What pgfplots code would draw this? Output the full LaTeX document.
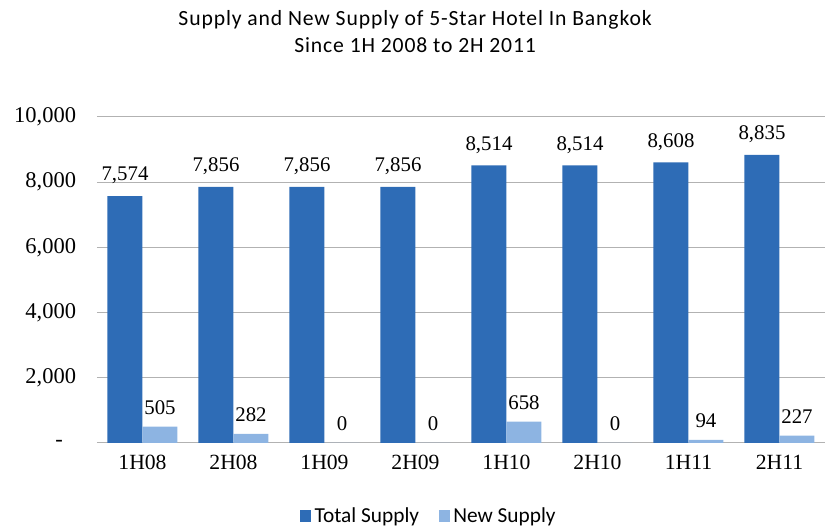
\documentclass[border=0pt]{standalone}
\usepackage{pgfplots}
\pgfplotsset{compat=1.18}
\usepackage{fontspec}
\setmainfont{Carlito}
\newfontfamily\numfont{Liberation Serif}
\newfontfamily\titlefont[LetterSpace=4]{Carlito}
\definecolor{totalc}{RGB}{46,108,182}
\definecolor{newc}{RGB}{141,180,226}
\begin{document}
\begin{tikzpicture}
\path[use as bounding box] (0,0) rectangle (496.2pt,317.4pt);
\begin{axis}[
  at={(58.2pt,51.6pt)}, anchor=south west,
  scale only axis, width=436.8pt, height=195.6pt,
  ybar=0pt, bar width=21pt,
  xmin=-0.5, xmax=7.5, ymin=0, ymax=10000,
  scaled y ticks=false,
  xtick={0,...,7},
  xticklabels={1H08,2H08,1H09,2H09,1H10,2H10,1H11,2H11},
  ytick={0,2000,4000,6000,8000,10000},
  yticklabels={{-\rule{8pt}{0pt}},{2,000},{4,000},{6,000},{8,000},{10,000}},
  tick label style={font=\numfont\fontsize{13}{15}\selectfont},
  yticklabel style={font=\numfont\fontsize{13.5}{15}\selectfont, xshift=-9pt},
  xticklabel style={yshift=-4pt},
  major tick length=0pt,
  axis line style={draw=none},
  ymajorgrids, major grid style={draw=gray!60, line width=0.6pt},
  nodes near coords={\pgfmathprintnumber[assume math mode=true,1000 sep={,}]{\pgfplotspointmeta}},
  nodes near coords style={font=\numfont\fontsize{12.5}{14}\selectfont, anchor=south, inner sep=0pt, yshift=7pt},
  legend style={at={(0.457,-0.224)}, anchor=center, draw=none, legend columns=2,
    font=\fontsize{12.8}{14}\selectfont,
    /tikz/every even column/.append style={column sep=10pt}},
  legend image code/.code={\fill[#1] (0pt,-3.6pt) rectangle (6.5pt,3.6pt);},
  clip=false,
]
\addplot[fill=totalc, draw=none] coordinates {(0,7574) (1,7856) (2,7856) (3,7856) (4,8514) (5,8514) (6,8608) (7,8835)};
\addplot[fill=newc, draw=none] coordinates {(0,505) (1,282) (2,0) (3,0) (4,658) (5,0) (6,94) (7,227)};
\legend{Total Supply, New Supply}
\node[align=center, font=\titlefont\fontsize{13}{16.2}\selectfont] at (rel axis cs:0.437,1.262) {Supply and New Supply of 5-Star Hotel In Bangkok\\Since 1H 2008 to 2H 2011};
\end{axis}
\end{tikzpicture}
\end{document}
